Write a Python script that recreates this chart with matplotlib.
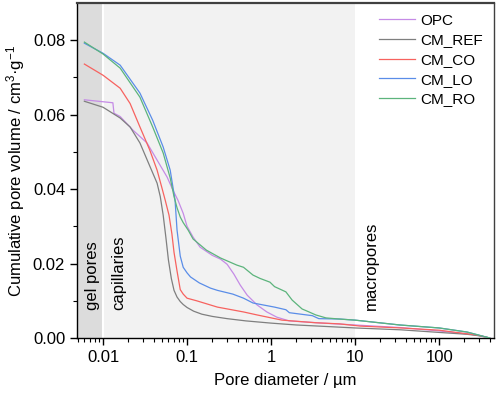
import numpy as np
import matplotlib
matplotlib.use("Agg")
import matplotlib.pyplot as plt

plt.rcParams['font.family'] = ['Liberation Sans', 'DejaVu Sans']
plt.rcParams['mathtext.fontset'] = 'custom'
plt.rcParams['mathtext.rm'] = 'Liberation Sans'
plt.rcParams['mathtext.it'] = 'Liberation Sans:italic'

# data (pore diameter in um, cumulative volume in cm3/g)
opc_d = [0.006, 0.0131, 0.0135, 0.016, 0.0228, 0.0334, 0.044, 0.058, 0.068, 0.078, 0.09, 0.1,
         0.118, 0.143, 0.2, 0.25, 0.3, 0.36, 0.43, 0.52, 0.68, 0.89, 1.17, 1.64, 4.1, 10, 35, 100,
         280, 400]
opc_v = [0.064, 0.0632, 0.0604, 0.0595, 0.0558, 0.0524, 0.0478, 0.0432, 0.0397, 0.037, 0.0335, 0.030,
         0.0271, 0.0244, 0.0222, 0.0212, 0.0198, 0.0172, 0.0142, 0.0115, 0.0089, 0.007, 0.0056, 0.0046,
         0.0040, 0.0035, 0.0028, 0.0019, 0.0008, 0.0]

ref_d = [0.006, 0.01, 0.016, 0.021, 0.0275, 0.036, 0.044, 0.048, 0.052, 0.056, 0.06, 0.065, 0.07,
         0.076, 0.083, 0.09, 0.1, 0.12, 0.15, 0.2, 0.3, 0.5, 1, 2, 4.5, 10, 35, 100, 215, 300, 400]
ref_v = [0.0636, 0.062, 0.0591, 0.0567, 0.0524, 0.0462, 0.0416, 0.038, 0.033, 0.027, 0.021, 0.016,
         0.0128, 0.011, 0.0098, 0.009, 0.0082, 0.0072, 0.0064, 0.0058, 0.0052, 0.0046, 0.0040, 0.0035,
         0.0031, 0.0027, 0.0022, 0.0015, 0.0010, 0.0006, 0.0]

co_d = [0.006, 0.01, 0.016, 0.021, 0.0275, 0.036, 0.044, 0.05, 0.055, 0.061, 0.066, 0.07, 0.076,
        0.083, 0.09, 0.1, 0.13, 0.23, 0.47, 0.68, 1.35, 3.4, 6.5, 11.5, 35, 100, 280, 400]
co_v = [0.0736, 0.0706, 0.0671, 0.063, 0.0567, 0.0505, 0.0451, 0.0405, 0.037, 0.033, 0.028, 0.023,
        0.018, 0.013, 0.0118, 0.0107, 0.0100, 0.0083, 0.0070, 0.0062, 0.0048, 0.0041, 0.0038, 0.0032,
        0.0027, 0.0021, 0.0008, 0.0]

lo_d = [0.006, 0.01, 0.016, 0.0275, 0.039, 0.052, 0.063, 0.072, 0.076, 0.083, 0.09, 0.1, 0.11,
        0.14, 0.19, 0.23, 0.35, 0.47, 0.61, 1.1, 1.5, 1.65, 3.1, 3.7, 6.5, 10, 34, 100, 215, 400]
lo_v = [0.0792, 0.0765, 0.0733, 0.0658, 0.0585, 0.0513, 0.0451, 0.037, 0.029, 0.022, 0.019, 0.0175,
        0.0164, 0.0148, 0.0134, 0.0128, 0.0118, 0.0107, 0.0094, 0.0083, 0.0076, 0.0068, 0.0060, 0.0052,
        0.0051, 0.0048, 0.0035, 0.0027, 0.0016, 0.0]

ro_d = [0.006, 0.01, 0.016, 0.0275, 0.039, 0.052, 0.063, 0.07, 0.076, 0.083, 0.09, 0.103, 0.118,
        0.17, 0.25, 0.39, 0.47, 0.61, 0.74, 0.97, 1.1, 1.5, 1.78, 2.34, 2.83, 3.4, 4.5, 6.45, 10, 34,
        100, 215, 400]
ro_v = [0.0795, 0.0763, 0.0725, 0.0647, 0.0567, 0.0497, 0.043, 0.038, 0.035, 0.0325, 0.031, 0.029,
        0.0266, 0.0236, 0.0215, 0.0196, 0.019, 0.0169, 0.016, 0.015, 0.0138, 0.0124, 0.0102, 0.0078,
        0.007, 0.0062, 0.0054, 0.0051, 0.0048, 0.0035, 0.0027, 0.0016, 0.0]

labels = ['OPC', 'CM_REF', 'CM_CO', 'CM_LO', 'CM_RO']
colors = ['#c58be6', '#7f7f7f', '#f7625f', '#5a8de8', '#5cb47c']
series = [(opc_d, opc_v), (ref_d, ref_v), (co_d, co_v), (lo_d, lo_v), (ro_d, ro_v)]

fig = plt.figure(figsize=(4.98, 3.97), dpi=100)
ax = fig.add_axes([0.1546, 0.1486, 0.8374, 0.8438])

# pore regions
ax.axvspan(0.0049, 0.01, color='#dcdcdc', lw=0, zorder=0)
ax.axvspan(0.01, 10, color='#f2f2f2', lw=0, zorder=0)
ax.axvline(0.01, color='white', lw=1.5, zorder=1)

for (d, v), lab, c in zip(series, labels, colors):
    ax.plot(d, v, color=c, lw=0.9, label=lab, zorder=3)

ax.set_xscale('log')
ax.set_xlim(0.0049, 450)
ax.set_ylim(0, 0.09)
ax.set_yticks([0, 0.02, 0.04, 0.06, 0.08])
ax.set_yticks([0.01, 0.03, 0.05, 0.07], minor=True)
ax.set_yticklabels(['0.00', '0.02', '0.04', '0.06', '0.08'])
ax.set_xticks([0.01, 0.1, 1, 10, 100])
ax.set_xticklabels(['0.01', '0.1', '1', '10', '100'])
ax.tick_params(which='major', direction='out', length=5, width=1, labelsize=12)
ax.tick_params(which='minor', direction='out', length=3, width=0.8)

for s in ax.spines.values():
    s.set_linewidth(1.0)
ax.spines['top'].set_color('#404040')
ax.spines['top'].set_linewidth(1.6)
ax.spines['right'].set_color('#404040')

ax.text(0.0074, 0.0075, 'gel pores', rotation=90, fontsize=12, ha='center', va='bottom')
ax.text(0.0152, 0.0075, 'capillaries', rotation=90, fontsize=12, ha='center', va='bottom')
ax.text(15.5, 0.0075, 'macropores', rotation=90, fontsize=12, ha='center', va='bottom')

ax.set_xlabel('Pore diameter / µm', fontsize=12, labelpad=6)
ax.set_ylabel('Cumulative pore volume / cm$^{3}$·g$^{-1}$', fontsize=12, labelpad=4)

ax.legend(loc='upper right', frameon=False, fontsize=11, handlelength=2.4,
          labelspacing=0.37, borderaxespad=0.3, handletextpad=0.35)

fig.savefig('out.png', dpi=100)
